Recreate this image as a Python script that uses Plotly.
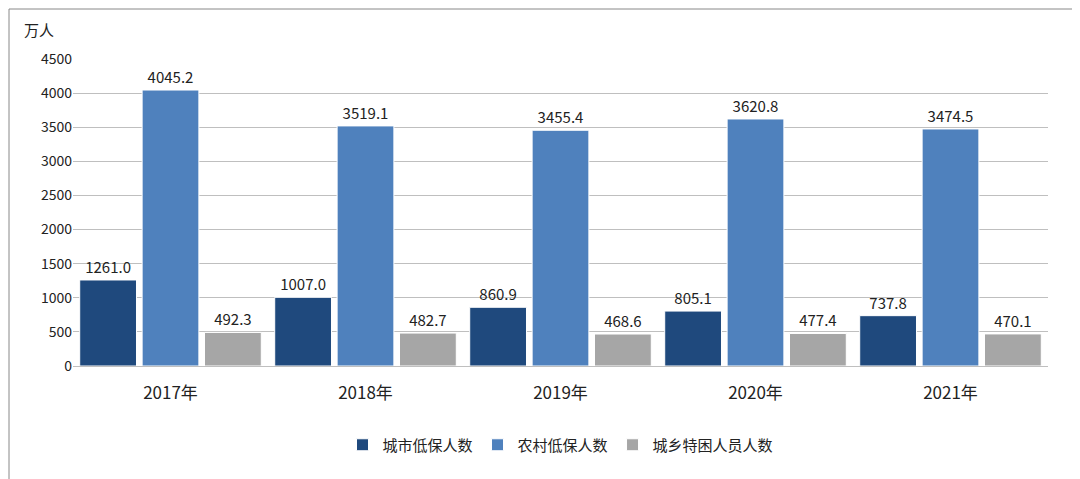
import plotly.graph_objects as go

years = ["2017年", "2018年", "2019年", "2020年", "2021年"]
urban = [1261.0, 1007.0, 860.9, 805.1, 737.8]
rural = [4045.2, 3519.1, 3455.4, 3620.8, 3474.5]
special = [492.3, 482.7, 468.6, 477.4, 470.1]
names = ["城市低保人数", "农村低保人数", "城乡特困人员人数"]
colors = ["#1F497D", "#4F81BD", "#A6A6A6"]

W, H = 1080, 479
L, R, T, B = 65, 40, 51, 121
pw, ph = W - L - R, H - T - B

fig = go.Figure()
for name, vals, c in zip(names, [urban, rural, special], colors):
    fig.add_bar(x=years, y=vals, name=name, marker=dict(color=c, line=dict(color="white", width=1)),
                text=[f"{v:.1f}" for v in vals], textposition="outside",
                textfont=dict(size=15, color="#222"), cliponaxis=False)

fig.update_layout(
    width=W, height=H, barmode="group", bargap=0.04, bargroupgap=0.09,
    plot_bgcolor="white", paper_bgcolor="white",
    font=dict(family="Noto Sans CJK SC, sans-serif", color="#222"),
    margin=dict(l=L, r=R, t=T, b=B, autoexpand=False),
    yaxis=dict(range=[0, 4500], dtick=500, showgrid=True, gridcolor="#BFBFBF",
               tickfont=dict(size=14), ticks="", zeroline=False, showline=False, automargin=False),
    xaxis=dict(tickfont=dict(size=17), showline=True, linecolor="#BFBFBF",
               ticks="outside", ticklen=12, tickcolor="rgba(0,0,0,0)", automargin=False),
    legend=dict(orientation="h", x=0.5, xanchor="center", y=-(437 - T - ph) / ph, yanchor="middle",
                font=dict(size=15), traceorder="normal"),
    annotations=[dict(text="万人", x=-(L - 14) / pw, y=1 + (T - 22) / ph, xref="paper", yref="paper",
                      showarrow=False, font=dict(size=15), xanchor="left", yanchor="middle")],
    shapes=[dict(type="rect", xref="paper", yref="paper",
                 x0=-(L - 1) / pw, x1=1 + (R - 2) / pw, y0=-(B - 2) / ph, y1=1 + (T - 1) / ph,
                 line=dict(color="#888", width=1))],
)
fig.write_html("out.html")
